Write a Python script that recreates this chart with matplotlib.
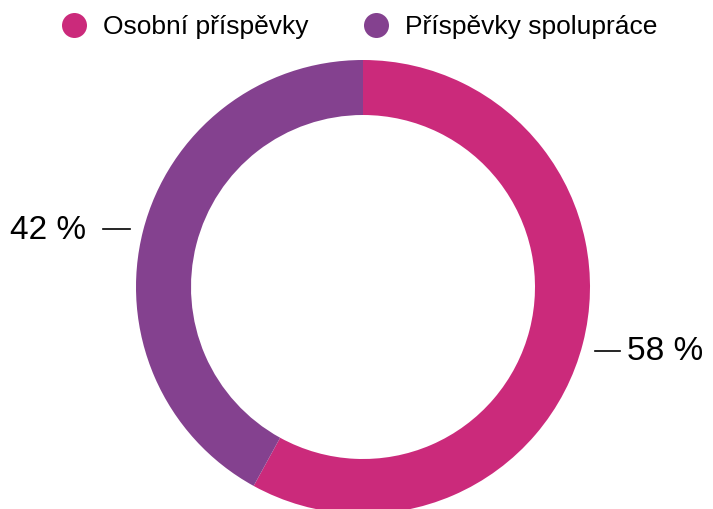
import numpy as np
import matplotlib
matplotlib.use("Agg")
from matplotlib import pyplot as plt
from matplotlib.patches import Circle

labels = ["Osobní příspěvky", "Příspěvky spolupráce"]
shares = [58, 42]
colors = ["#CB2A7B", "#84418F"]

W, H = 713, 510
fig = plt.figure(figsize=(W / 100, H / 100), dpi=100)
ax = fig.add_axes([0, 0, 1, 1])

font = "Liberation Sans"
cx, cy, r = 363, 222, 227
wedges, _ = ax.pie(shares, colors=colors, startangle=90, counterclock=False,
                   center=(cx, cy), radius=r, frame=True,
                   wedgeprops=dict(width=55, linewidth=0))
ax.set_xlim(0, W)
ax.set_ylim(0, H)
ax.set_aspect("equal")
ax.axis("off")

# percentage labels with short leader lines
for w, v in zip(wedges, shares):
    ang = np.deg2rad((w.theta1 + w.theta2) / 2)
    x = cx + r * np.cos(ang)
    y = cy - 3 + 245 * np.sin(ang)
    if np.cos(ang) > 0:
        ax.plot([x + 12, x + 37], [y, y], color="black", lw=1.2)
        ax.text(x + 44, y, f"{v} %", fontsize=24, family=font,
                ha="left", va="center")
    else:
        ax.plot([x - 13, x - 40], [y, y], color="black", lw=1.2)
        ax.text(x - 57, y, f"{v} %", fontsize=24, family=font,
                ha="right", va="center")

# legend
leg_x = [74.5, 376.5]
for lx, lab, c in zip(leg_x, labels, colors):
    ax.add_patch(Circle((lx, H - 26.5), 12.5, color=c, lw=0))
    ax.text(lx + 28, H - 27, lab, fontsize=19, family=font, ha="left", va="center")

fig.savefig("out.png", dpi=100)
